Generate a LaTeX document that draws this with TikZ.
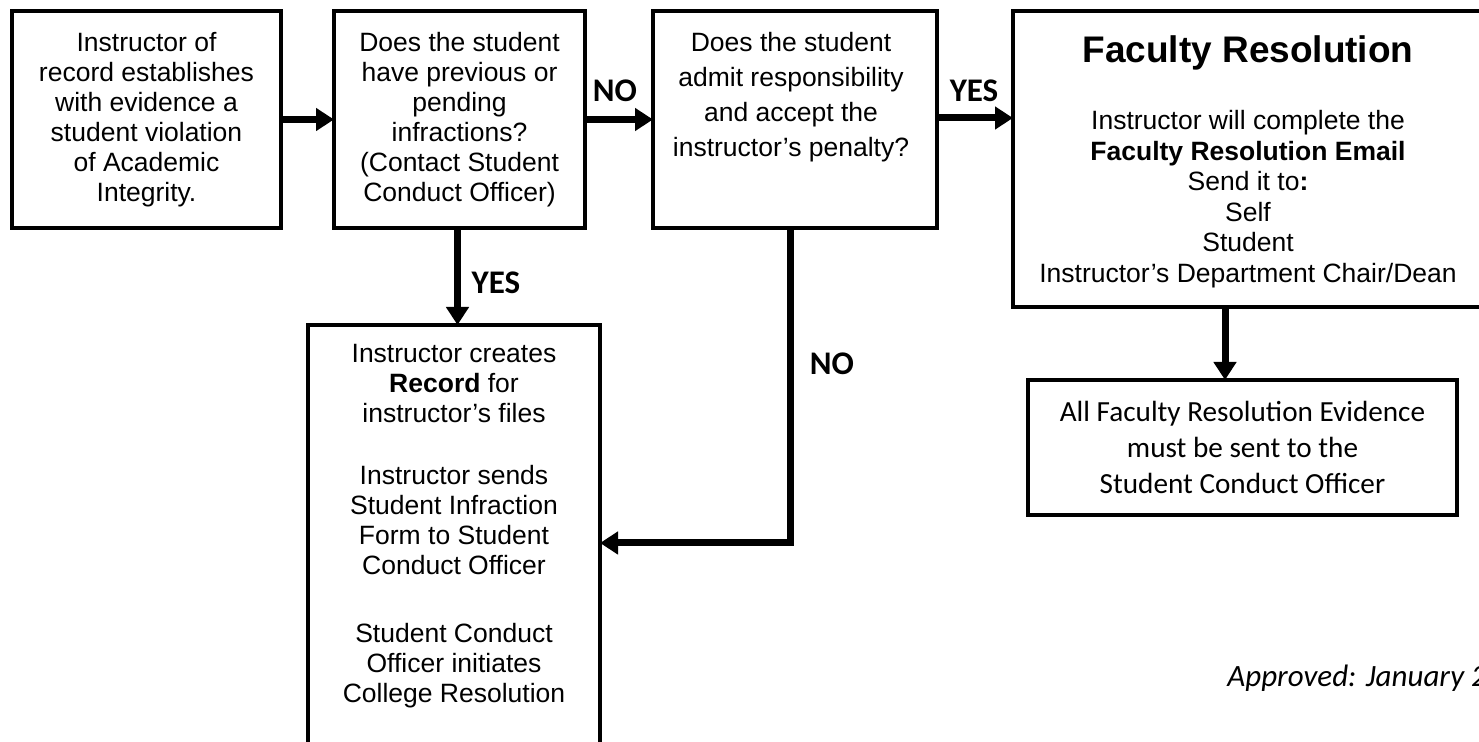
\documentclass[tikz,border=0pt]{standalone}
\usepackage{fontspec}
\setmainfont{Liberation Sans}
\newfontfamily\calibri{Carlito}
\usetikzlibrary{positioning, calc, arrows.meta}

\begin{document}
\begin{tikzpicture}[x=0.5pt, y=-0.5pt,
		blk/.style={draw, line width=2pt, inner sep=0pt, outer sep=0pt, align=center},
		txt/.style={inner sep=0pt, align=center, anchor=north},
		flow/.style={line width=3.5pt, -{Triangle[length=9pt, width=11pt]}},
		lbl/.style={font=\calibri\bfseries\fontsize{16.5}{20}\selectfont, inner sep=0pt}]
		\clip (0,0) rectangle (1479,742);
		% top row of boxes
		\node[blk, minimum width=134.5pt, minimum height=108.5pt, font=\fontsize{13.25}{15}\selectfont] (instr) at (146.5,119.5)
			{Instructor of\\ record establishes\\ with evidence a\\ student violation\\ of Academic\\ Integrity.};
		\node[blk, minimum width=125.5pt, minimum height=108.5pt, font=\fontsize{13.25}{15}\selectfont] (prior) at (459.5,119.5)
			{Does the student\\ have previous or\\ pending\\ infractions?\\ (Contact Student\\ Conduct Officer)};
		\node[blk, minimum width=142pt, minimum height=108.5pt] (admit) at (795,119.5) {};
		\node[txt, font=\fontsize{13.25}{17.5}\selectfont] (admittxt) at (791,32)
			{Does the student\\ admit responsibility\\ and accept the\\ instructor’s penalty?};
		\node[blk, minimum width=235pt, minimum height=148pt] (facres) at (1248,159) {};
		\node[txt, font=\bfseries\fontsize{18.5}{22}\selectfont] (facreshead) at (1248,35) {Faculty Resolution};
		\node[txt, font=\fontsize{13.25}{15.3}\selectfont] (facrestxt) at (1248,110)
			{Instructor will complete the\\ \textbf{Faculty Resolution Email}\\ Send it to\textbf{:}\\ Self\\ Student\\ Instructor’s Department Chair/Dean};
		% lower boxes
		\node[blk, minimum width=214.5pt, minimum height=67.5pt, font=\calibri\fontsize{14.6}{17.8}\selectfont] (evid) at (1242.5,447.5)
			{All Faculty Resolution Evidence\\ must be sent to the\\ Student Conduct Officer};
		\node[blk, minimum width=146pt, minimum height=210pt] (record) at (454,535) {};
		\node[txt, font=\fontsize{13.25}{15}\selectfont] (recordtxt) at (454,344)
			{Instructor creates\\ \textbf{Record} for\\ instructor’s files\\[16pt]
			 Instructor sends\\ Student Infraction\\ Form to Student\\ Conduct Officer\\[19pt]
			 Student Conduct\\ Officer initiates\\ College Resolution};
		% connectors
		\draw[flow] (instr.east) -- (prior.west);
		\draw[flow] (prior.east) -- (admit.west);
		\draw[flow] ([yshift=0.75pt]admit.east) -- ([yshift=0.75pt]admit.east -| facres.west);
		\draw[flow] ([xshift=-1pt]prior.south) -- ([xshift=-1pt]prior.south |- record.north);
		\draw[flow] ([xshift=-2.5pt]admit.south) |- ([yshift=-4pt]record.east);
		\draw[flow] ([xshift=-11.5pt]facres.south) -- ([xshift=-11.5pt]facres.south |- evid.north);
		% branch labels
		\node[lbl] (no1) at (615,91) {NO};
		\node[lbl] (yes1) at (974,91) {YES};
		\node[lbl] (yes2) at (496,283) {YES};
		\node[lbl] (no2) at (832,364) {NO};
		\node[anchor=base west, inner sep=0pt, font=\calibri\itshape\fontsize{15.5}{18}\selectfont] (approved) at (1227,687) {Approved: January 2};
	\end{tikzpicture}
\end{document}
